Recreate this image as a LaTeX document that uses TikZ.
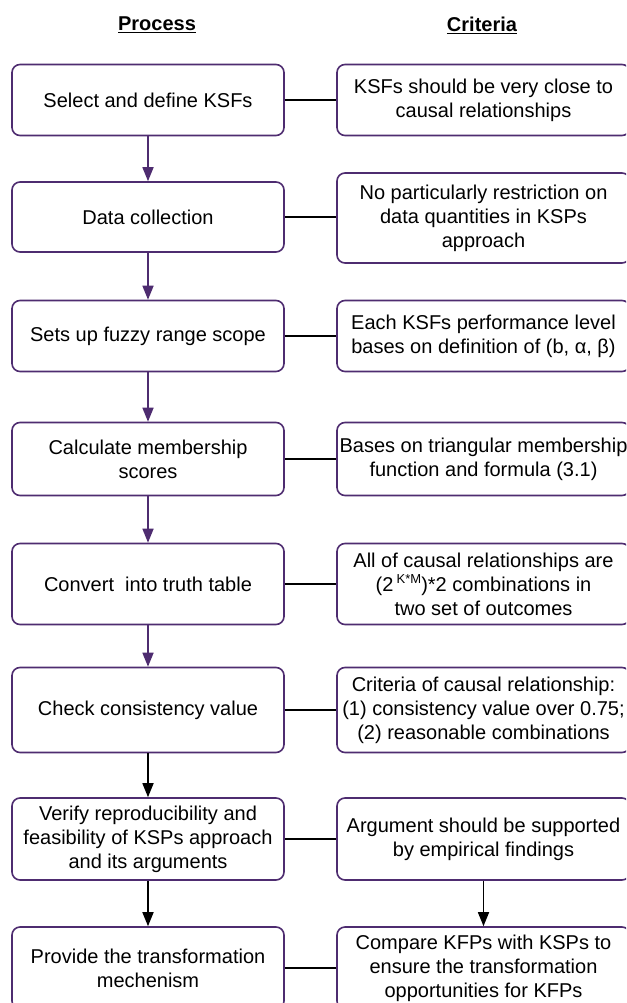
\documentclass[tikz,border=0pt]{standalone}
\usepackage{fontspec}
\setmainfont{Liberation Sans}
\usetikzlibrary{arrows.meta}
\definecolor{boxpurple}{RGB}{78,44,112}
\tikzset{
  procbox/.style={draw=boxpurple, line width=1.6pt, rounded corners=8pt, fill=white,
    minimum width=272pt, align=center, inner sep=2pt,
    font=\fontsize{20}{24}\selectfont},
  critbox/.style={procbox, minimum width=293pt},
  purplearrow/.style={draw=boxpurple, line width=1.6pt, -{Triangle[length=14pt,width=11pt]}},
  blackarrow/.style={draw=black, line width=1.6pt, -{Triangle[length=14pt,width=11pt]}},
  link/.style={draw=black, line width=1.8pt},
  header/.style={font=\fontsize{20}{24}\selectfont\bfseries}
}
\begin{document}
\begin{tikzpicture}[x=1pt,y=-1pt]
\useasboundingbox (0,0) rectangle (626,1003);
\clip (0,0) rectangle (626,1003);
\fill[white] (0,0) rectangle (626,1003);

\node[header] (hp) at (157,25) {\underline{Process}};
\node[header] (hc) at (482,25) {\underline{Criteria}};

% process column
\node[procbox, minimum height=71pt] (p1) at (148,100) {Select and define KSFs};
\node[procbox, minimum height=70pt] (p2) at (148,217) {Data collection};
\node[procbox, minimum height=71pt] (p3) at (148,336) {Sets up fuzzy range scope};
\node[procbox, minimum height=73pt] (p4) at (148,459) {Calculate membership\\scores};
\node[procbox, minimum height=81pt] (p5) at (148,584) {Convert\ \ into truth table};
\node[procbox, minimum height=85pt] (p6) at (148,710) {Check consistency value};
\node[procbox, minimum height=82pt] (p7) at (148,839) {Verify reproducibility and\\feasibility of KSPs approach\\and its arguments};
\node[procbox, minimum height=82pt] (p8) at (148,968) {Provide the transformation\\mechenism};

% criteria column
\node[critbox, minimum height=71pt] (c1) at (483.5,100) {KSFs should be very close to\\causal relationships};
\node[critbox, minimum height=90pt] (c2) at (483.5,218) {No particularly restriction on\\data quantities in KSPs\\approach};
\node[critbox, minimum height=71pt] (c3) at (483.5,336) {Each KSFs performance level\\bases on definition of (b, α, β)};
\node[critbox, minimum height=73pt] (c4) at (483.5,459) {Bases on triangular membership\\function and formula (3.1)};
\node[critbox, minimum height=81pt] (c5) at (483.5,584) {All of causal relationships are\\(2\,\raisebox{0.7ex}{\fontsize{13}{13}\selectfont K*M})*2 combinations in\\two set of outcomes};
\node[critbox, minimum height=85pt] (c6) at (483.5,710) {Criteria of causal relationship:\\(1) consistency value over 0.75;\\(2) reasonable combinations};
\node[critbox, minimum height=82pt] (c7) at (483.5,839) {Argument should be supported\\by empirical findings};
\node[critbox, minimum height=82pt] (c8) at (483.5,968) {Compare KFPs with KSPs to\\ensure the transformation\\opportunities for KFPs};

% vertical arrows
\draw[purplearrow] (p1.south) -- (p2.north);
\draw[purplearrow] (p2.south) -- (p3.north);
\draw[purplearrow] (p3.south) -- (p4.north);
\draw[purplearrow] (p4.south) -- (p5.north);
\draw[purplearrow] (p5.south) -- (p6.north);
\draw[blackarrow] (p6.south) -- (p7.north);
\draw[blackarrow] (p7.south) -- (p8.north);
\draw[blackarrow] (c7.south) -- (c8.north);

% horizontal links
\draw[link] (p1.east) -- (c1.west);
\draw[link] (p2.east) -- (p2.east -| c2.west);
\draw[link] (p3.east) -- (c3.west);
\draw[link] (p4.east) -- (c4.west);
\draw[link] (p5.east) -- (c5.west);
\draw[link] (p6.east) -- (c6.west);
\draw[link] (p7.east) -- (c7.west);
\draw[link] (p8.east) -- (c8.west);
\end{tikzpicture}
\end{document}
